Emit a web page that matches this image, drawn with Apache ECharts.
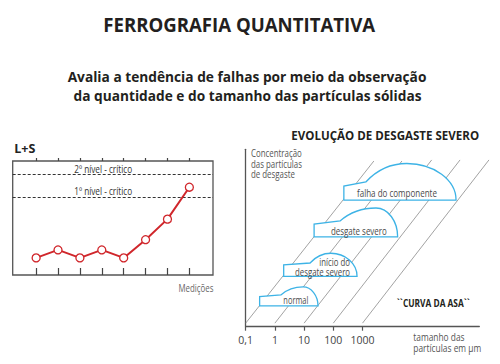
<!DOCTYPE html>
<html><head><meta charset="utf-8">
<script src="https://cdn.jsdelivr.net/npm/echarts@6/dist/echarts.min.js"></script>
<style>html,body{margin:0;padding:0;background:#fff}#c{width:500px;height:364px}</style>
</head><body><div id="c"></div>
<script>
// ---------- data ----------
const measurements = [1, 2, 3, 4, 5, 6, 7, 8];
const lsValues = [15, 22, 15, 22, 15, 31, 49, 77];
const criticalLevelNames = ['2º nível - crítico', '1º nível - crítico'];
const criticalLevelValues = [88, 68];

const sizeTickValues = [0.1, 1, 10, 100, 1000];
const sizeTickLabels = ['0,1', '1', '10', '100', '1000'];

const wearStages = ['normal', 'início do\ndesgate severo', 'desgate severo', 'falha do componente'];
const stageMinSize = [0.3, 2, 22, 230];
const stageMaxSize = [30, 650, 16000, 1600000];
const stageBaseConc = [11.7, 28.4, 50.6, 71.4];
const stageEdgeConc = [16.9, 34.8, 57.9, 79.3];
const stageShoulderSize = [1.6, 16, 170, 1300];
const stageShoulderConc = [17.9, 35.9, 59.6, 81.6];
const stagePeakSize = [9.2, 83, 2900, 33000];
const stagePeakConc = [22.4, 41.4, 66.9, 92.0];

const guideStartSize = [0.1, 1, 10, 100, 1000];
const guideEndSize = [2450, 22400, 234000, 2190000, 21400000];
const guideStartConc = [2, 2, 2, 2, 2];
const guideEndConc = [93.4, 93.4, 94, 94, 94];

// ---------- helpers ----------
const FONT = '"Open Sans", "Noto Sans", sans-serif';
const mctx = document.createElement('canvas').getContext('2d');
function fitScale(text, font, w) {
  mctx.font = font;
  const m = Math.max.apply(null, text.split('\n').map(l => mctx.measureText(l).width));
  return Math.max(0.5, Math.min(1.2, w / m));
}
function gtext(text, x, y, opt) {
  const size = opt.size, weight = opt.weight || 'normal';
  const font = weight + ' ' + size + 'px ' + FONT;
  const align = opt.align || 'center';
  return {
    type: 'text', x: x, y: y, scaleX: fitScale(text, font, opt.width), silent: true,
    style: {
      text: text, font: font, fill: opt.color || '#222',
      align: align, textAlign: align, verticalAlign: 'middle', textVerticalAlign: 'middle',
      lineHeight: opt.lineHeight || size * 1.2
    }
  };
}

const stageLabelLayout = [
  { anchor: 'center', dx: 7, dy: 6, width: 25, lh: 10 },
  { anchor: 'right', dx: 7, dy: 9.3, width: 55, lh: 9.4 },
  { anchor: 'center', dx: 3, dy: 6, width: 56, lh: 10 },
  { anchor: 'center', dx: -3, dy: 6.7, width: 80, lh: 10 }
];

function renderStage(params, api) {
  const i = params.dataIndex;
  const bl = api.coord([api.value(0), api.value(2)]);
  const br = api.coord([api.value(1), api.value(2)]);
  const tl = api.coord([api.value(0), api.value(3)]);
  const s = api.coord([api.value(4), api.value(5)]);
  const p = api.coord([api.value(6), api.value(7)]);
  const c1 = [s[0] + 0.25 * (p[0] - s[0]), s[1] - 0.6 * (s[1] - p[1])];
  const c2 = [s[0] + 0.55 * (p[0] - s[0]), p[1]];
  const c3 = [p[0] + 0.55 * (br[0] - p[0]), p[1]];
  const c4 = [br[0], br[1] - 0.55 * (br[1] - p[1])];
  const f = pt => pt[0].toFixed(2) + ',' + pt[1].toFixed(2);
  const d = 'M' + f(bl) + ' L' + f(tl) + ' L' + f(s) + ' C' + f(c1) + ' ' + f(c2) + ' ' + f(p) +
            ' C' + f(c3) + ' ' + f(c4) + ' ' + f(br) + ' Z';
  const L = stageLabelLayout[i];
  const lx = L.anchor === 'right' ? br[0] - L.dx : (bl[0] + br[0]) / 2 + L.dx;
  const ly = bl[1] - L.dy;
  const font = 'normal 10.5px ' + FONT;
  const align = L.anchor === 'right' ? 'right' : 'center';
  return {
    type: 'group',
    children: [
      { type: 'path', shape: { pathData: d },
        style: { fill: '#fff', stroke: '#3db3e6', lineWidth: 1.3 } },
      { type: 'text', x: lx, y: ly, scaleX: fitScale(wearStages[i], font, L.width),
        style: { text: wearStages[i], font: font, fill: '#4a4a4a', align: align, textAlign: align,
                 verticalAlign: 'middle', textVerticalAlign: 'middle', lineHeight: L.lh } }
    ]
  };
}

function renderGuide(params, api) {
  const a = api.coord([api.value(0), api.value(1)]);
  const b = api.coord([api.value(2), api.value(3)]);
  return { type: 'line', shape: { x1: a[0], y1: a[1], x2: b[0], y2: b[1] },
           style: { stroke: '#8a8a8a', lineWidth: 0.8 } };
}

function sizeLabel(v) {
  const i = sizeTickValues.findIndex(t => Math.abs(Math.log10(t) - Math.log10(v)) < 1e-6);
  return i >= 0 ? sizeTickLabels[i] : '';
}

const chart = echarts.init(document.getElementById('c'), null, { renderer: 'svg' });
chart.setOption({
  animation: false,
  backgroundColor: '#fff',
  textStyle: { fontFamily: FONT },
  grid: [
    { left: 12.7, top: 161, width: 200.3, height: 114, show: true, borderColor: '#555', borderWidth: 1.3 },
    { left: 245.7, top: 149.3, width: 233.6, height: 177.4 }
  ],
  xAxis: [
    { gridIndex: 0, type: 'value', min: -0.07, max: 9.08, axisLine: { show: false }, splitLine: { show: false },
      axisLabel: { show: false },
      axisTick: { show: true, inside: true, length: 7, customValues: measurements, lineStyle: { color: '#444', width: 1.2 } } },
    { gridIndex: 0, type: 'value', min: -0.07, max: 9.08, axisLine: { show: false }, splitLine: { show: false },
      axisLabel: { show: false },
      axisTick: { show: true, inside: false, length: 3, customValues: measurements, lineStyle: { color: '#444', width: 1.2 } } },
    { gridIndex: 1, type: 'log', logBase: 10, min: 0.1, max: 1e7, splitLine: { show: false },
      axisLine: { show: true, lineStyle: { color: '#555', width: 1.3 } },
      axisTick: { show: true, length: 4, customValues: sizeTickValues, lineStyle: { color: '#555', width: 1.2 } },
      axisLabel: { show: true, customValues: sizeTickValues, formatter: sizeLabel, margin: 8, fontSize: 10.5, color: '#444', fontFamily: FONT } }
  ],
  yAxis: [
    { gridIndex: 0, type: 'value', min: 0, max: 100, axisLine: { show: false }, axisTick: { show: false },
      axisLabel: { show: false }, splitLine: { show: false },
      name: 'L+S', nameLocation: 'end', nameGap: 6,
      nameTextStyle: { align: 'left', fontWeight: 'bold', fontSize: 12.5, color: '#222', fontFamily: FONT } },
    { gridIndex: 1, type: 'value', min: 0, max: 100, axisLine: { show: true, lineStyle: { color: '#555', width: 1.3 } },
      axisTick: { show: false }, axisLabel: { show: false }, splitLine: { show: false } }
  ],
  series: [
    { type: 'line', xAxisIndex: 0, yAxisIndex: 0, z: 5,
      data: measurements.map((m, i) => [m, lsValues[i]]),
      symbol: 'circle', symbolSize: 8,
      lineStyle: { color: '#d0262b', width: 2 },
      itemStyle: { color: '#fff', borderColor: '#d0262b', borderWidth: 1.3 },
      markLine: { silent: true, symbol: 'none', label: { show: false },
        lineStyle: { color: '#333', type: [3, 2], width: 1 },
        data: criticalLevelValues.map((v, i) => ({ name: criticalLevelNames[i], yAxis: v })) } },
    { type: 'custom', xAxisIndex: 2, yAxisIndex: 1, clip: false, z: 2, silent: true,
      renderItem: renderGuide,
      data: guideStartSize.map((s, i) => [s, guideStartConc[i], guideEndSize[i], guideEndConc[i]]) },
    { type: 'custom', xAxisIndex: 2, yAxisIndex: 1, clip: false, z: 3, silent: true,
      renderItem: renderStage,
      encode: { x: [0, 1, 4, 6], y: [2, 3, 5, 7] },
      data: wearStages.map((n, i) => [stageMinSize[i], stageMaxSize[i], stageBaseConc[i], stageEdgeConc[i],
        stageShoulderSize[i], stageShoulderConc[i], stagePeakSize[i], stagePeakConc[i]]) }
  ],
  graphic: [
    gtext('FERROGRAFIA QUANTITATIVA', 239.2, 25, { size: 19, weight: 'bold', width: 272, color: '#231f20' }),
    gtext('Avalia a tendência de falhas por meio da observação', 247, 76.7, { size: 15, weight: 'bold', width: 359, color: '#231f20' }),
    gtext('da quantidade e do tamanho das partículas sólidas', 247.5, 95, { size: 15, weight: 'bold', width: 348, color: '#231f20' }),
    gtext('EVOLUÇÃO DE DESGASTE SEVERO', 385.2, 135, { size: 12.5, weight: 'bold', width: 188, color: '#231f20' }),
    gtext('``CURVA DA ASA``', 433.3, 302.7, { size: 11, weight: 'bold', width: 73, color: '#231f20' }),
    gtext(criticalLevelNames[0], 103.2, 169.3, { size: 10.5, width: 58, color: '#333' }),
    gtext(criticalLevelNames[1], 103.2, 190.7, { size: 10.5, width: 58, color: '#333' }),
    gtext('Medições', 196, 288.3, { size: 10.5, width: 35, color: '#666' }),
    gtext('Concentração\ndas partículas\nde desgaste', 251, 164, { size: 10.5, width: 51, color: '#555', align: 'left', lineHeight: 10.5 }),
    gtext('tamanho das\npartículas em µm', 413.3, 342.5, { size: 10.5, width: 68, color: '#555', align: 'left', lineHeight: 11.6 })
  ]
});
</script></body></html>
